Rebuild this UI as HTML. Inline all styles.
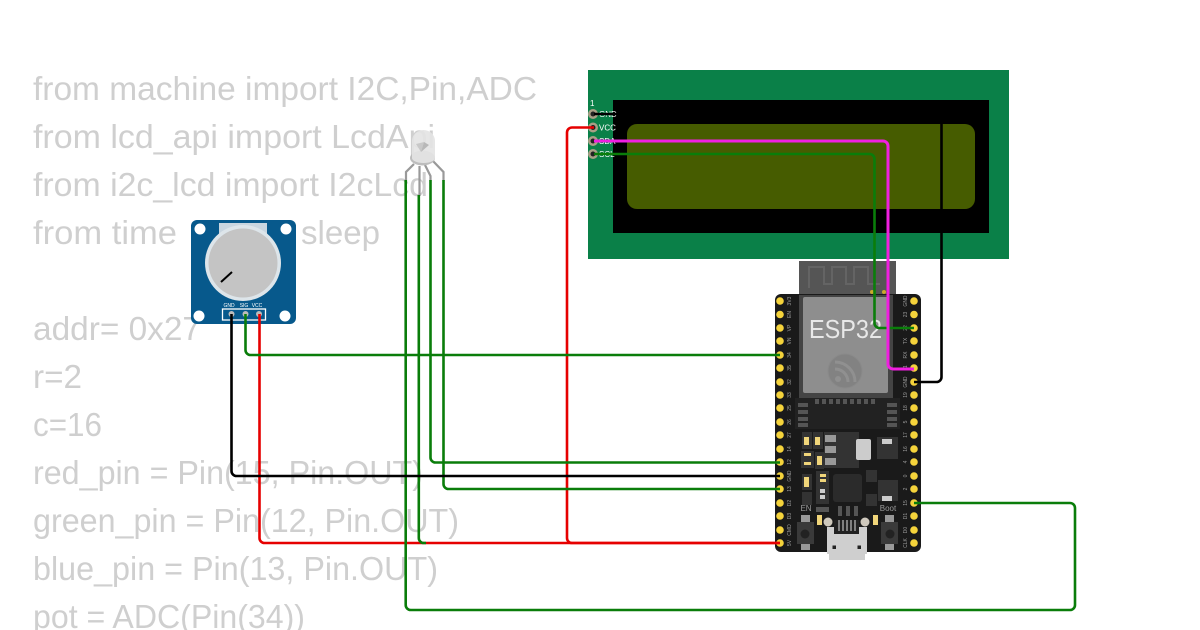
<!DOCTYPE html>
<html><head><meta charset="utf-8">
<style>
html,body{margin:0;padding:0;background:#fff;width:1200px;height:630px;overflow:hidden}
svg{display:block}
.c text{font-family:"Liberation Sans",sans-serif;font-size:33px;fill:#cfcfcf}
.p{font-family:"Liberation Sans",sans-serif;font-size:5px;fill:#9a9a9a}
.w{fill:none;stroke-width:2.6;stroke-linejoin:round}
</style></head><body>
<svg width="1200" height="630" viewBox="0 0 1200 630" xmlns="http://www.w3.org/2000/svg">
<rect width="1200" height="630" fill="#fff"/>
<g class="c">
<text x="33" y="100" textLength="504" lengthAdjust="spacingAndGlyphs">from machine import I2C,Pin,ADC</text>
<text x="33" y="148" textLength="402" lengthAdjust="spacingAndGlyphs">from lcd_api import LcdApi</text>
<text x="33" y="196" textLength="395" lengthAdjust="spacingAndGlyphs">from i2c_lcd import I2cLcd</text>
<text x="33" y="244" textLength="144" lengthAdjust="spacingAndGlyphs">from time</text>
<text x="301" y="244" textLength="79" lengthAdjust="spacingAndGlyphs">sleep</text>
<text x="33" y="340" textLength="168" lengthAdjust="spacingAndGlyphs">addr= 0x27</text>
<text x="33" y="388" textLength="49" lengthAdjust="spacingAndGlyphs">r=2</text>
<text x="33" y="436" textLength="69" lengthAdjust="spacingAndGlyphs">c=16</text>
<text x="33" y="484" textLength="390" lengthAdjust="spacingAndGlyphs">red_pin = Pin(15, Pin.OUT)</text>
<text x="33" y="532" textLength="426" lengthAdjust="spacingAndGlyphs">green_pin = Pin(12, Pin.OUT)</text>
<text x="33" y="580" textLength="405" lengthAdjust="spacingAndGlyphs">blue_pin = Pin(13, Pin.OUT)</text>
<text x="33" y="628" textLength="272" lengthAdjust="spacingAndGlyphs">pot = ADC(Pin(34))</text>
</g>

<!-- LCD -->
<rect x="588" y="70" width="421" height="189" fill="#0a8048"/>
<rect x="613" y="100" width="376" height="133" fill="#000"/>
<rect x="627" y="124" width="348" height="85" rx="10" fill="#465c00"/>
<g fill="#a89f85"><circle cx="593" cy="114" r="5"/><circle cx="593" cy="127.500" r="5"/><circle cx="593" cy="141" r="5"/><circle cx="593" cy="154" r="5"/></g>
<g fill="#222"><circle cx="593" cy="114" r="2.500"/><circle cx="593" cy="127.500" r="2.500"/><circle cx="593" cy="141" r="2.500"/><circle cx="593" cy="154" r="2.500"/></g>
<g font-family="Liberation Sans, sans-serif" font-size="8" fill="#fff">
<text x="590" y="106">1</text><text x="599" y="117">GND</text><text x="599" y="130.500">VCC</text><text x="599" y="144">SDA</text><text x="599" y="157">SCL</text>
</g>

<!-- ESP32 board -->
<rect x="799" y="261" width="97" height="36" fill="#555"/>
<path d="M809 288V267H824V284H832V267H846V284H854V267H868V284H880" fill="none" stroke="#646464" stroke-width="2"/>
<rect x="775" y="294" width="146" height="258" rx="6" fill="#1a1a1a"/>
<rect x="799" y="295" width="94" height="106" fill="#444"/>
<rect x="803" y="297" width="85" height="96" rx="2" fill="#8e8e8e"/>
<circle cx="872" cy="292" r="2" fill="#c9a92c"/><circle cx="884" cy="292" r="2" fill="#c9a92c"/>
<text x="809" y="338" font-family="Liberation Sans, sans-serif" font-size="26" fill="#e8e8e8" textLength="73" lengthAdjust="spacingAndGlyphs">ESP32</text>
<circle cx="845" cy="371" r="17" fill="#828282" stroke="#8a8a8a" stroke-width="1"/>
<path d="M835 362a20 20 0 0 1 20 20M835 369a13 13 0 0 1 13 13" fill="none" stroke="#909090" stroke-width="3"/>
<circle cx="838" cy="379" r="3" fill="#909090"/>
<rect x="795" y="398" width="105" height="31" fill="#222"/>
<g fill="#555">
<rect x="815" y="399" width="4" height="5"/><rect x="822" y="399" width="4" height="5"/><rect x="829" y="399" width="4" height="5"/><rect x="836" y="399" width="4" height="5"/><rect x="843" y="399" width="4" height="5"/><rect x="850" y="399" width="4" height="5"/><rect x="857" y="399" width="4" height="5"/><rect x="864" y="399" width="4" height="5"/><rect x="871" y="399" width="4" height="5"/>
<rect x="798" y="403" width="10" height="4"/><rect x="798" y="410" width="10" height="4"/><rect x="798" y="417" width="10" height="4"/><rect x="798" y="423" width="10" height="4"/>
<rect x="887" y="403" width="10" height="4"/><rect x="887" y="410" width="10" height="4"/><rect x="887" y="417" width="10" height="4"/><rect x="887" y="423" width="10" height="4"/>
</g>
<!-- regulator -->
<rect x="824" y="432" width="35" height="36" fill="#333"/>
<g fill="#999"><rect x="825" y="435" width="11" height="7"/><rect x="825" y="446" width="11" height="7"/><rect x="825" y="458" width="11" height="7"/></g>
<rect x="856" y="439" width="15" height="21" rx="2" fill="#ccc"/>
<!-- small parts -->
<g fill="#333"><rect x="802" y="432" width="10" height="17"/><rect x="813" y="432" width="10" height="17"/><rect x="801" y="451" width="13" height="17"/><rect x="815" y="452" width="9" height="17"/><rect x="802" y="474" width="10" height="16"/><rect x="802" y="492" width="10" height="13"/><rect x="816" y="471" width="13" height="33"/><rect x="877" y="437" width="21" height="22"/><rect x="878" y="480" width="20" height="21"/><rect x="866" y="470" width="11" height="12"/><rect x="866" y="494" width="11" height="12"/></g>
<g fill="#f0d57a"><rect x="804" y="437" width="5" height="8"/><rect x="815" y="437" width="5" height="8"/><rect x="817" y="456" width="5" height="9"/><rect x="804" y="477" width="5" height="10"/><rect x="820" y="474" width="6" height="3"/><rect x="820" y="479" width="6" height="3"/><rect x="804" y="453" width="7" height="3"/><rect x="804" y="462" width="7" height="3"/></g>
<g fill="#ccc"><rect x="882" y="439" width="10" height="5"/><rect x="882" y="496" width="10" height="5"/><rect x="820" y="489" width="5" height="4"/><rect x="820" y="495" width="5" height="4"/></g>
<rect x="833" y="474" width="29" height="28" rx="3" fill="#2b2b2b"/>
<text x="806" y="511" text-anchor="middle" font-family="Liberation Sans, sans-serif" font-size="8" fill="#9a9a9a">EN</text>
<text x="888" y="511" text-anchor="middle" font-family="Liberation Sans, sans-serif" font-size="8" fill="#9a9a9a">Boot</text>
<!-- buttons -->
<g fill="#999"><rect x="801" y="515" width="9" height="35"/><rect x="885" y="515" width="9" height="35"/></g>
<g fill="#3a3a3a"><rect x="797" y="522" width="17" height="22"/><rect x="881" y="522" width="17" height="22"/></g>
<g fill="#222"><circle cx="805" cy="534" r="4.500"/><circle cx="890" cy="534" r="4.500"/></g>
<rect x="816" y="507" width="13" height="5" fill="#555"/><rect x="817" y="515" width="5" height="10" fill="#f0d57a"/><rect x="873" y="515" width="5" height="10" fill="#f0d57a"/>
<g fill="#555"><rect x="838" y="506" width="4" height="10"/><rect x="846" y="506" width="4" height="10"/><rect x="854" y="506" width="4" height="10"/></g>
<!-- usb -->
<path d="M827 527H867V554H865V560H829V554H827Z" fill="#cfcfcf"/>
<circle cx="828" cy="522" r="4.500" fill="#cfc9bd"/><circle cx="865" cy="522" r="4.500" fill="#cfc9bd"/>
<rect x="834" y="520" width="25" height="14" fill="#222"/>
<path d="M839 520v11M843 520v11M847 520v11M851 520v11M855 520v11" stroke="#ddd" stroke-width="1"/>
<rect x="832.500" y="545.500" width="3.500" height="3.500" fill="#222"/><rect x="857.500" y="545.500" width="3.500" height="3.500" fill="#222"/>
<!-- pins -->
<g fill="#f5d33b">
<circle cx="780" cy="301" r="3.800"/><circle cx="780" cy="314.500" r="3.800"/><circle cx="780" cy="328" r="3.800"/><circle cx="780" cy="341" r="3.800"/><circle cx="780" cy="355" r="3.800"/><circle cx="780" cy="368" r="3.800"/><circle cx="780" cy="382" r="3.800"/><circle cx="780" cy="395" r="3.800"/><circle cx="780" cy="408" r="3.800"/><circle cx="780" cy="422" r="3.800"/><circle cx="780" cy="435" r="3.800"/><circle cx="780" cy="449" r="3.800"/><circle cx="780" cy="462" r="3.800"/><circle cx="780" cy="476" r="3.800"/><circle cx="780" cy="489" r="3.800"/><circle cx="780" cy="503" r="3.800"/><circle cx="780" cy="516" r="3.800"/><circle cx="780" cy="530" r="3.800"/><circle cx="780" cy="543" r="3.800"/>
<circle cx="914" cy="301" r="3.800"/><circle cx="914" cy="314.500" r="3.800"/><circle cx="914" cy="328" r="3.800"/><circle cx="914" cy="341" r="3.800"/><circle cx="914" cy="355" r="3.800"/><circle cx="914" cy="368" r="3.800"/><circle cx="914" cy="382" r="3.800"/><circle cx="914" cy="395" r="3.800"/><circle cx="914" cy="408" r="3.800"/><circle cx="914" cy="422" r="3.800"/><circle cx="914" cy="435" r="3.800"/><circle cx="914" cy="449" r="3.800"/><circle cx="914" cy="462" r="3.800"/><circle cx="914" cy="476" r="3.800"/><circle cx="914" cy="489" r="3.800"/><circle cx="914" cy="503" r="3.800"/><circle cx="914" cy="516" r="3.800"/><circle cx="914" cy="530" r="3.800"/><circle cx="914" cy="543" r="3.800"/>
</g>
<g class="p" text-anchor="middle">
<text transform="translate(791,301) rotate(-90)">3V3</text><text transform="translate(791,314.500) rotate(-90)">EN</text><text transform="translate(791,328) rotate(-90)">VP</text><text transform="translate(791,341) rotate(-90)">VN</text><text transform="translate(791,355) rotate(-90)">34</text><text transform="translate(791,368) rotate(-90)">35</text><text transform="translate(791,382) rotate(-90)">32</text><text transform="translate(791,395) rotate(-90)">33</text><text transform="translate(791,408) rotate(-90)">25</text><text transform="translate(791,422) rotate(-90)">26</text><text transform="translate(791,435) rotate(-90)">27</text><text transform="translate(791,449) rotate(-90)">14</text><text transform="translate(791,462) rotate(-90)">12</text><text transform="translate(791,476) rotate(-90)">GND</text><text transform="translate(791,489) rotate(-90)">13</text><text transform="translate(791,503) rotate(-90)">D2</text><text transform="translate(791,516) rotate(-90)">D3</text><text transform="translate(791,530) rotate(-90)">CMD</text><text transform="translate(791,543) rotate(-90)">5V</text>
<text transform="translate(907,301) rotate(-90)">GND</text><text transform="translate(907,314.500) rotate(-90)">23</text><text transform="translate(907,328) rotate(-90)">22</text><text transform="translate(907,341) rotate(-90)">TX</text><text transform="translate(907,355) rotate(-90)">RX</text><text transform="translate(907,368) rotate(-90)">21</text><text transform="translate(907,382) rotate(-90)">GND</text><text transform="translate(907,395) rotate(-90)">19</text><text transform="translate(907,408) rotate(-90)">18</text><text transform="translate(907,422) rotate(-90)">5</text><text transform="translate(907,435) rotate(-90)">17</text><text transform="translate(907,449) rotate(-90)">16</text><text transform="translate(907,462) rotate(-90)">4</text><text transform="translate(907,476) rotate(-90)">0</text><text transform="translate(907,489) rotate(-90)">2</text><text transform="translate(907,503) rotate(-90)">15</text><text transform="translate(907,516) rotate(-90)">D1</text><text transform="translate(907,530) rotate(-90)">D0</text><text transform="translate(907,543) rotate(-90)">CLK</text>
</g>

<!-- Potentiometer -->
<rect x="191" y="220" width="105" height="104" rx="6" fill="#07598c"/>
<rect x="219" y="223" width="48" height="20" fill="#c9d6e0"/>
<g fill="#fff"><circle cx="200" cy="229" r="5.500"/><circle cx="286" cy="229" r="5.500"/><circle cx="199" cy="316" r="5.500"/><circle cx="285" cy="316" r="5.500"/></g>
<circle cx="243" cy="263" r="38" fill="#dde5ea"/>
<circle cx="243" cy="263" r="34.500" fill="#c4c4c4"/>
<line x1="221" y1="282" x2="232" y2="272" stroke="#000" stroke-width="2"/>
<g font-family="Liberation Sans, sans-serif" font-size="5" fill="#fff" text-anchor="middle"><text x="229" y="307">GND</text><text x="244" y="307">SIG</text><text x="257" y="307">VCC</text></g>
<rect x="222.500" y="309" width="43" height="11" fill="none" stroke="#fff" stroke-width="1.300"/>
<g fill="#bbb"><circle cx="231.500" cy="314" r="3"/><circle cx="245.500" cy="314" r="3"/><circle cx="259" cy="314" r="3"/></g>

<!-- LED -->
<path d="M414 164L406 172V181M419.500 166V196M425 165L430.500 176V181M432 160L443.500 172V181" fill="none" stroke="#999" stroke-width="2.200"/>
<ellipse cx="422.500" cy="158" rx="12.500" ry="7.500" fill="#bdbdbd"/>
<path d="M412 158V141a11.500 11 0 0 1 23 0V158a11.500 5 0 0 1-23 0Z" fill="#e4e4e4" opacity=".92"/>
<path d="M416 144L424 142L421 152Z" fill="#c8c8c8"/><path d="M424 142L429 145L421 152Z" fill="#b8b8b8"/>

<!-- Wires -->
<g class="w">
<path stroke="#e60000" d="M594 127.500H572a5 5 0 0 0-5 5V538a5 5 0 0 0 5 5H780"/>
<path stroke="#e60000" d="M259.500 314V538a5 5 0 0 0 5 5H780"/>
<path stroke="#0a7d0a" d="M405.700 180V605a5 5 0 0 0 5 5H1070a5 5 0 0 0 5-5V508a5 5 0 0 0-5-5H914"/>
<path stroke="#0a7d0a" d="M418.800 195V538a5 5 0 0 0 5 5H426"/>
<path stroke="#0a7d0a" d="M430.500 180V457.500a5 5 0 0 0 5 5H780"/>
<path stroke="#0a7d0a" d="M443.500 180V484a5 5 0 0 0 5 5H780"/>
<path stroke="#0a7d0a" d="M245.500 314V350a5 5 0 0 0 5 5H780"/>
<path stroke="#000" d="M231.500 314V471a5 5 0 0 0 5 5H780"/>
<path stroke="#0a7d0a" d="M594 154H869.500a5 5 0 0 1 5 5V323a5 5 0 0 0 5 5H914"/>
<path stroke="#f01fe0" stroke-width="3" d="M594 141H883a5 5 0 0 1 5 5V364a5 5 0 0 0 5 5H914"/>
<path stroke="#000" d="M594 114H936.500a5 5 0 0 1 5 5V377a5 5 0 0 1-5 5H914"/>
</g>
</svg>
</body></html>
